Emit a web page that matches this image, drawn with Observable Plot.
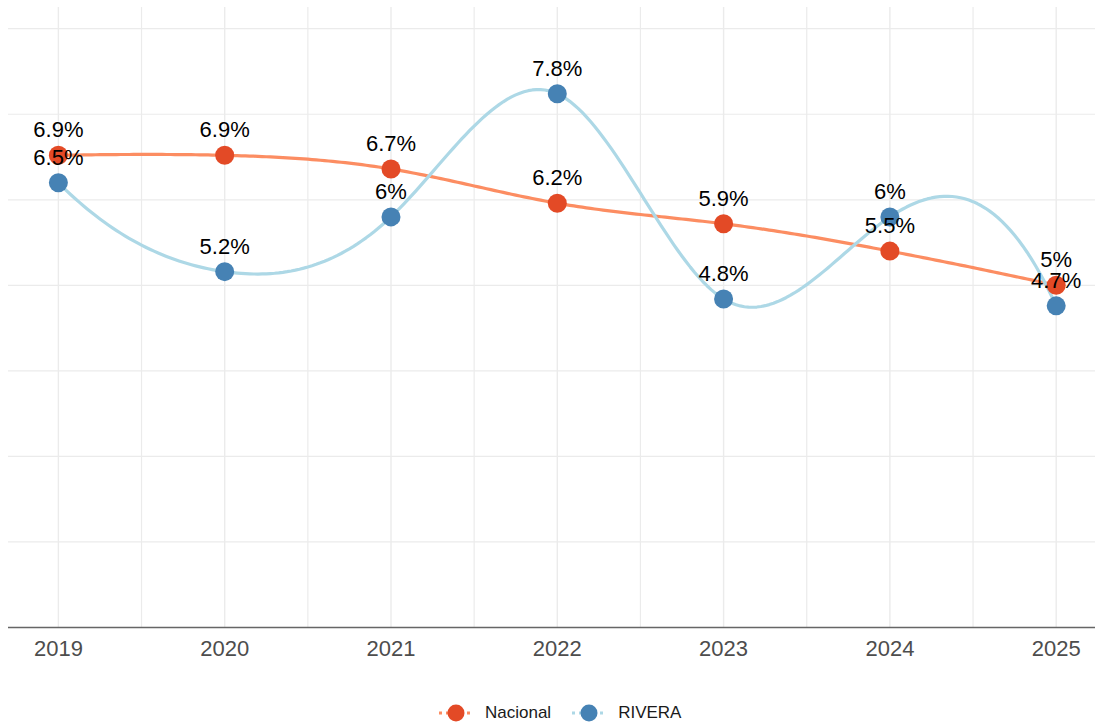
<!DOCTYPE html>
<html>
<head>
<meta charset="utf-8">
<script src="https://cdn.jsdelivr.net/npm/d3@7"></script>
<script src="https://cdn.jsdelivr.net/npm/@observablehq/plot@0.6"></script>
<style>
  html, body { margin: 0; padding: 0; background: #fff; }
  #wrap { position: relative; width: 1095px; height: 725px; font-family: "Liberation Sans", Arial, sans-serif; }
  #legend { position: absolute; top: 702px; left: 438px; display: flex; align-items: center; font-size: 17px; color: #1a1a1a; }
  .item { display: flex; align-items: center; margin-right: 20px; }
  .item svg { margin-right: 11px; }
</style>
</head>
<body>
<div id="wrap"></div>
<script>
const years = [2019, 2020, 2021, 2022, 2023, 2024, 2025];
const nacional = [6.9, 6.9, 6.7, 6.2, 5.9, 5.5, 5.0];
const rivera = [6.5, 5.2, 6.0, 7.8, 4.8, 6.0, 4.7];
const seriesNames = ["Nacional", "RIVERA"];
const pointColors = ["#E34A26", "#4682B4"];
const lineColors = ["#FC8D62", "#ADD8E6"];
const gridY = [0, 1.25, 2.5, 3.75, 5, 6.25, 7.5, 8.75];
const gridXMinor = [2019.5, 2020.5, 2021.5, 2022.5, 2023.5, 2024.5];

// Forsythe–Malcolm–Moler cubic spline (as R's spline()), used as a d3 curve
function fmmCoef(xs, ys) {
  const n = xs.length;
  const x = [0, ...xs], y = [0, ...ys];
  const b = new Array(n + 1).fill(0), c = new Array(n + 1).fill(0), d = new Array(n + 1).fill(0);
  if (n < 3) {
    const t = (y[2] - y[1]) / (x[2] - x[1]);
    b[1] = b[2] = t;
    return { x, y, b, c, d, n };
  }
  const nm1 = n - 1;
  d[1] = x[2] - x[1];
  c[2] = (y[2] - y[1]) / d[1];
  for (let i = 2; i < n; i++) {
    d[i] = x[i + 1] - x[i];
    b[i] = 2 * (d[i - 1] + d[i]);
    c[i + 1] = (y[i + 1] - y[i]) / d[i];
    c[i] = c[i + 1] - c[i];
  }
  b[1] = -d[1];
  b[n] = -d[nm1];
  c[1] = c[n] = 0;
  if (n > 3) {
    c[1] = c[3] / (x[4] - x[2]) - c[2] / (x[3] - x[1]);
    c[n] = c[nm1] / (x[n] - x[n - 2]) - c[n - 2] / (x[nm1] - x[n - 3]);
    c[1] = c[1] * d[1] * d[1] / (x[4] - x[1]);
    c[n] = -c[n] * d[nm1] * d[nm1] / (x[n] - x[n - 3]);
  }
  for (let i = 2; i <= n; i++) {
    const t = d[i - 1] / b[i - 1];
    b[i] = b[i] - t * d[i - 1];
    c[i] = c[i] - t * c[i - 1];
  }
  c[n] = c[n] / b[n];
  for (let i = nm1; i >= 1; i--) c[i] = (c[i] - d[i] * c[i + 1]) / b[i];
  b[n] = (y[n] - y[n - 1]) / d[n - 1] + d[n - 1] * (c[n - 1] + 2 * c[n]);
  for (let i = 1; i <= nm1; i++) {
    b[i] = (y[i + 1] - y[i]) / d[i] - d[i] * (c[i + 1] + 2 * c[i]);
    d[i] = (c[i + 1] - c[i]) / d[i];
    c[i] = 3 * c[i];
  }
  c[n] = 3 * c[n];
  d[n] = d[nm1];
  return { x, y, b, c, d, n };
}
function curveFMM(context) {
  let xs, ys;
  return {
    areaStart() {}, areaEnd() {},
    lineStart() { xs = []; ys = []; },
    point(px, py) { xs.push(+px); ys.push(+py); },
    lineEnd() {
      if (!xs.length) return;
      const s = fmmCoef(xs, ys);
      context.moveTo(xs[0], ys[0]);
      for (let i = 1; i < s.n; i++) {
        const steps = 40;
        for (let k = 1; k <= steps; k++) {
          const dx = (s.x[i + 1] - s.x[i]) * k / steps;
          const yy = s.y[i] + dx * (s.b[i] + dx * (s.c[i] + dx * s.d[i]));
          context.lineTo(s.x[i] + dx, yy);
        }
      }
    }
  };
}

const seriesValues = [nacional, rivera];
const series = seriesNames.map((name, k) =>
  years.map((y, i) => ({ year: y, value: seriesValues[k][i], serie: name }))
);
const fmt = v => `${+v.toFixed(1)}%`;

const marks = [
  Plot.ruleY(gridY, { stroke: "#ebebeb", strokeWidth: 1.2 }),
  Plot.ruleX(gridXMinor, { stroke: "#ebebeb", strokeWidth: 1.2 }),
  Plot.ruleX(years, { stroke: "#ebebeb", strokeWidth: 1.4 }),
  Plot.ruleY([0], { stroke: "#666666", strokeWidth: 1.3 }),
  Plot.axisX({ ticks: years, tickFormat: d => String(d), tickSize: 0, tickPadding: 13, fontSize: 22, fill: "#4d4d4d", label: null })
];
series.forEach((s, k) => {
  marks.push(Plot.line(s, { x: "year", y: "value", curve: curveFMM, stroke: lineColors[k], strokeWidth: 3.2 }));
});
series.forEach((s, k) => {
  marks.push(Plot.dot(s, { x: "year", y: "value", r: 9.5, fill: pointColors[k], stroke: "none" }));
});
series.forEach((s, k) => {
  marks.push(Plot.text(s, { x: "year", y: "value", text: d => fmt(d.value), dy: -25, fontSize: 22, fill: "#000" }));
});

const chart = Plot.plot({
  width: 1095,
  height: 690,
  marginTop: 7,
  marginBottom: 63,
  marginLeft: 8,
  marginRight: 0,
  x: { domain: [2018.7, 2018.7 + 1087 / 166.3] },
  y: { domain: [0, 9.06], axis: null },
  style: { fontFamily: "'Liberation Sans', Arial, sans-serif", background: "#fff", overflow: "visible" },
  marks
});
const wrap = document.getElementById("wrap");
wrap.appendChild(chart);

const legend = document.createElement("div");
legend.id = "legend";
seriesNames.forEach((name, k) => {
  const item = document.createElement("div");
  item.className = "item";
  item.innerHTML = `<svg width="36" height="22"><line x1="1" x2="35" y1="11" y2="11" stroke="${lineColors[k]}" stroke-width="3" stroke-dasharray="3,4"/><circle cx="18" cy="11" r="8.5" fill="${pointColors[k]}"/></svg><span>${name}</span>`;
  legend.appendChild(item);
});
wrap.appendChild(legend);
</script>
</body>
</html>
